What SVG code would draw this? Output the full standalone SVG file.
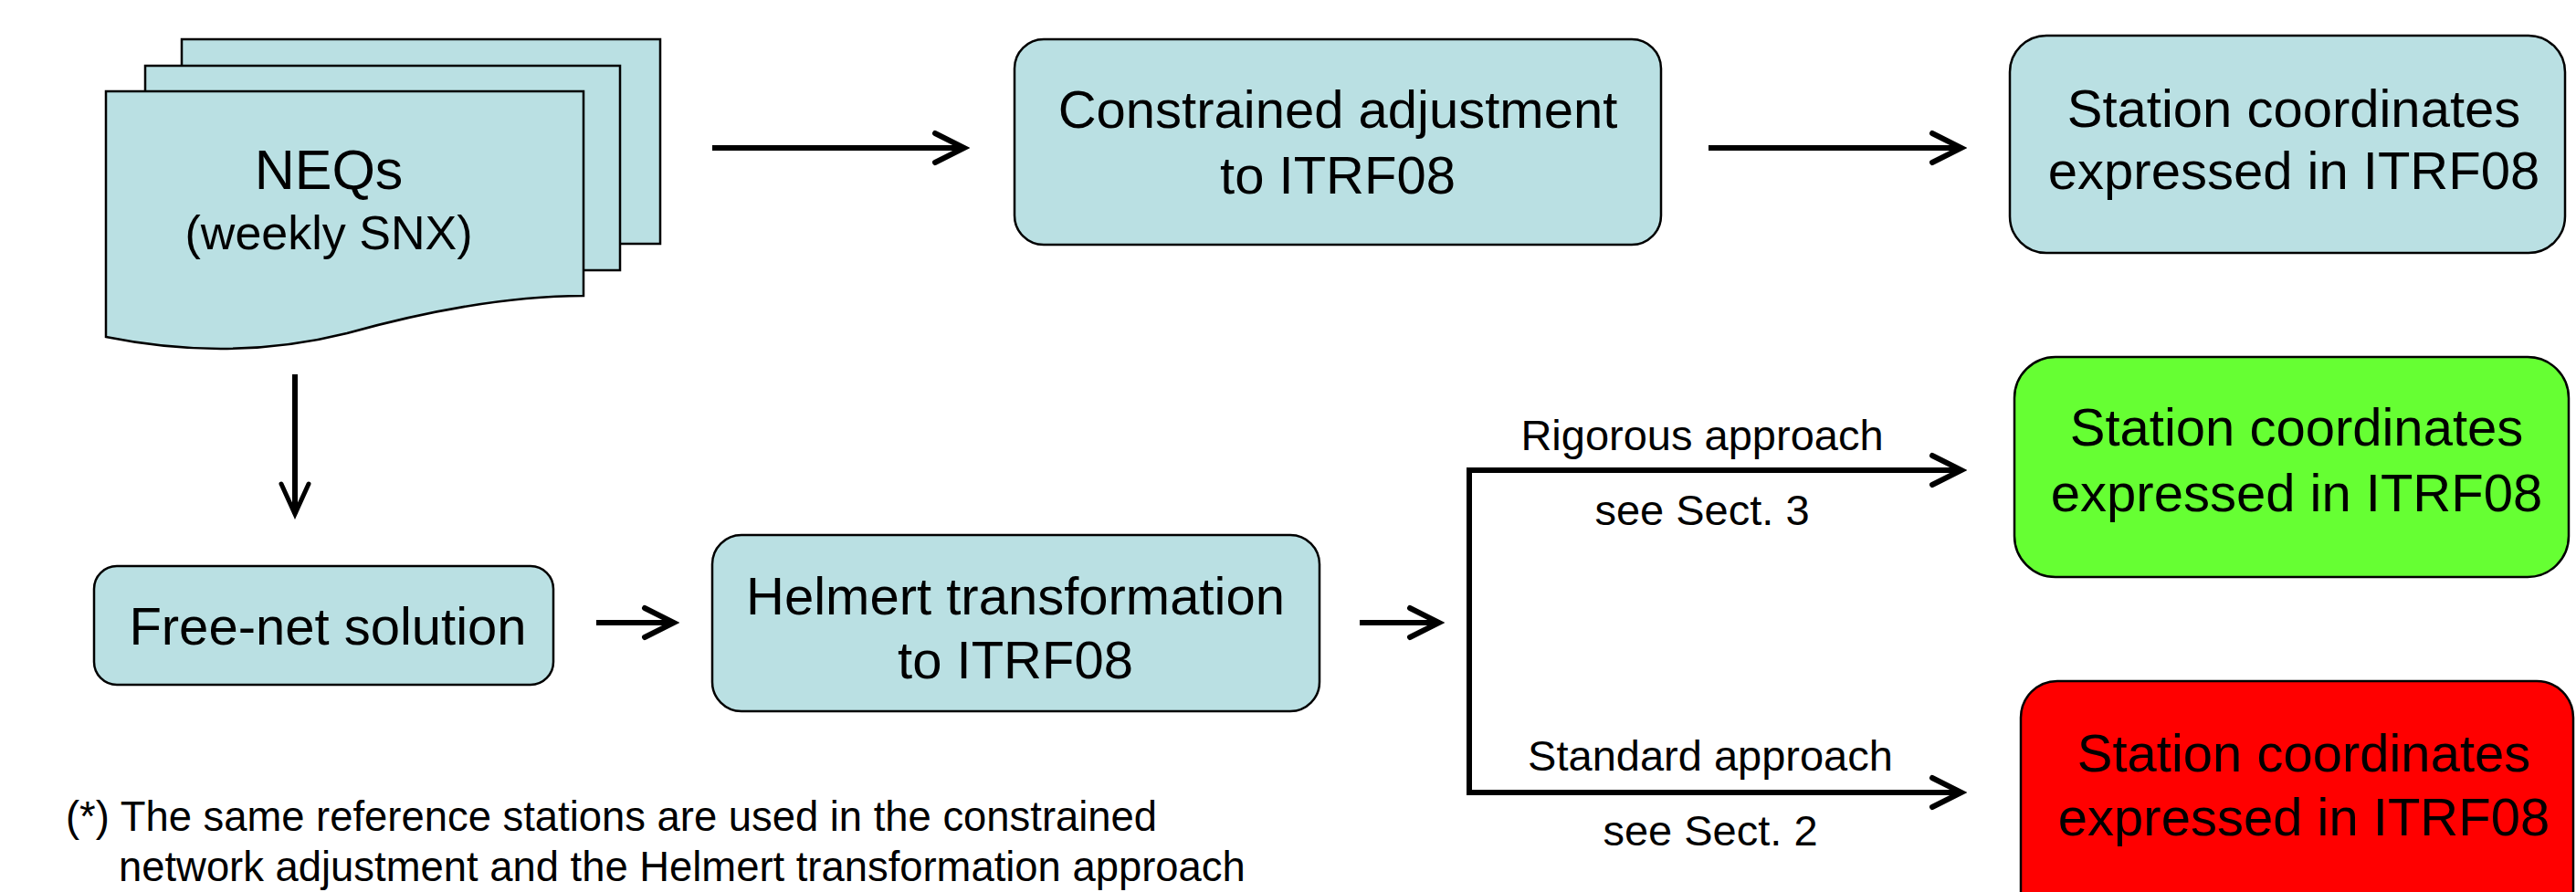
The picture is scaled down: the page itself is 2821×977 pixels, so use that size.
<svg xmlns="http://www.w3.org/2000/svg" width="2821" height="977" viewBox="0 0 2821 977">
<style>
.box{fill:#BAE0E3;stroke:#000;stroke-width:2.5}
.green{fill:#66FF33;stroke:#000;stroke-width:2.5}
.red{fill:#FF0000;stroke:#000;stroke-width:2.5}
text{font-family:"Liberation Sans",Arial,sans-serif;fill:#000}
.t58{font-size:58px;text-anchor:middle}
.t47{font-size:47px;text-anchor:middle}
.note{font-size:45.4px}
.conn{fill:none;stroke:#000;stroke-width:6}
</style>
<defs>
<marker id="chev" markerUnits="userSpaceOnUse" viewBox="-40 -22 46 44" markerWidth="46" markerHeight="44" refX="0" refY="0" orient="auto-start-reverse">
<path d="M-32,-16 L0,0 L-32,16" fill="none" stroke="#000" stroke-width="6" stroke-linecap="round" stroke-linejoin="miter"/>
</marker>
<marker id="chevs" markerUnits="userSpaceOnUse" viewBox="-40 -22 46 44" markerWidth="46" markerHeight="44" refX="0" refY="0" orient="auto">
<path d="M-33,-15 L0,0 L-33,15" fill="none" stroke="#000" stroke-width="5" stroke-linecap="round" stroke-linejoin="miter"/>
</marker>
</defs>
<g id="neqs">
<rect class="box" x="199" y="43" width="524" height="224"/>
<rect class="box" x="159" y="72" width="520" height="224"/>
<path class="box" d="M116,100 H639 V324 C560,324 470,340 380,365 C280,390 190,384 116,369 Z"/>
<text class="t58" x="360" y="207" style="font-size:61px">NEQs</text>
<text class="t58" x="360" y="273" style="font-size:52px">(weekly SNX)</text>
</g>
<g id="constrained">
<rect class="box" x="1111" y="43" width="708" height="225" rx="32" ry="32"/>
<text class="t58" x="1465" y="140">Constrained adjustment</text>
<text class="t58" x="1465" y="212">to ITRF08</text>
</g>
<g id="station1">
<rect class="box" x="2201" y="39" width="608" height="238" rx="40" ry="40"/>
<text class="t58" x="2512" y="139">Station coordinates</text>
<text class="t58" x="2512" y="207">expressed in ITRF08</text>
</g>
<g id="freenet">
<rect class="box" x="103" y="620" width="503" height="130" rx="25" ry="25"/>
<text class="t58" x="359" y="706">Free-net solution</text>
</g>
<g id="helmert">
<rect class="box" x="780" y="586" width="665" height="193" rx="32" ry="32"/>
<text class="t58" x="1112" y="673">Helmert transformation</text>
<text class="t58" x="1112" y="743">to ITRF08</text>
</g>
<g id="station-rigorous">
<rect class="green" x="2206" y="391" width="607" height="241" rx="45" ry="45"/>
<text class="t58" x="2515" y="488">Station coordinates</text>
<text class="t58" x="2515" y="560">expressed in ITRF08</text>
</g>
<g id="station-standard">
<rect class="red" x="2213" y="746" width="605" height="270" rx="40" ry="40"/>
<text class="t58" x="2523" y="845">Station coordinates</text>
<text class="t58" x="2523" y="915">expressed in ITRF08</text>
</g>
<g id="connectors">
<path class="conn" d="M780,162 H1056" marker-end="url(#chev)"/>
<path class="conn" d="M1871,162 H2148" marker-end="url(#chev)"/>
<path class="conn" d="M323,410 V563" stroke-width="4" marker-end="url(#chevs)"/>
<path class="conn" d="M653,682 H738" marker-end="url(#chev)"/>
<path class="conn" d="M1489,682 H1576" marker-end="url(#chev)"/>
<path class="conn" d="M2148,515 H1609 V868 H2148" marker-start="url(#chev)" marker-end="url(#chev)"/>
<text class="t47" x="1864" y="493">Rigorous approach</text>
<text class="t47" x="1864" y="575">see Sect. 3</text>
<text class="t47" x="1873" y="844">Standard approach</text>
<text class="t47" x="1873" y="926">see Sect. 2</text>
</g>
<g id="footnote">
<text class="note" x="72" y="910">(*) The same reference stations are used in the constrained</text>
<text class="note" x="130" y="965">network adjustment and the Helmert transformation approach</text>
</g>
</svg>
